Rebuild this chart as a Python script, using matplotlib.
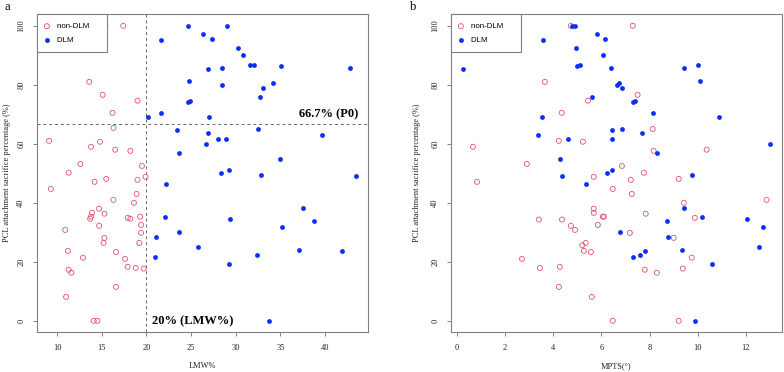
import matplotlib
matplotlib.use("Agg")
import matplotlib.pyplot as plt

# ---- data ----
# panel a: LMW% vs PCL attachment sacrifice percentage
lmw_non = [15.4, 17.4, 13.6, 15.1, 19.0, 16.2, 16.3, 9.1, 13.8, 14.8, 16.5, 18.2,
           12.6, 11.3, 19.5, 19.9, 15.5, 14.2, 19.0, 9.3, 18.9, 16.3, 18.6, 14.7,
           13.9, 15.3, 13.8, 13.7, 17.9, 18.2, 19.3, 14.7, 19.4, 10.9, 19.4, 15.3,
           15.2, 19.2, 11.2, 12.9, 16.6, 17.6, 11.3, 11.6, 17.9, 18.8, 19.7, 16.6,
           11.0, 14.1, 14.5]
pcl_a_non = [100, 100, 81, 76.6, 74.6, 70.5, 65.4, 61, 59, 60.7, 58, 57.6,
             53.2, 50.2, 52.5, 48.8, 48.1, 47.1, 47.8, 44.7, 43, 41, 40, 38,
             36.6, 36.3, 35.3, 34.6, 34.9, 34.6, 35.3, 32.2, 32.5, 30.8, 29.8, 28.1,
             26.4, 26.4, 23.7, 21.4, 23.3, 21, 17.3, 16.3, 18.3, 17.9, 17.7, 11.5,
             8.1, 0, 0]
lmw_dlm = [24.7, 29.0, 21.6, 26.3, 27.3, 30.2, 30.8, 31.6, 32.0, 35.1, 42.8, 26.9,
           28.5, 24.8, 28.5, 34.2, 33.1, 32.7, 24.7, 24.9, 21.6, 20.2, 27.0, 23.4,
           32.5, 26.9, 39.6, 28.0, 28.9, 26.7, 23.7, 35.0, 29.2, 28.3, 32.8, 43.5,
           22.2, 37.5, 22.1, 29.3, 38.8, 35.2, 23.7, 21.1, 25.8, 37.1, 41.9, 32.4,
           21.0, 29.2, 33.7]
pcl_a_dlm = [100, 100, 95.3, 97.3, 95.6, 92.5, 90.2, 86.8, 86.8, 86.4, 85.8, 85.4,
             85.8, 81.4, 80, 80.7, 79, 76, 74.3, 74.6, 70.5, 69, 69.1, 64.7,
             65, 63.8, 63, 61.7, 61.7, 60, 57, 55, 51.2, 50.2, 49.5, 49.2,
             46.4, 38.3, 35.2, 34.6, 33.9, 31.9, 30.2, 28.5, 25, 24, 23.7, 22.4,
             21.7, 19.3, 0]

# panel b: MPTS vs PCL attachment sacrifice percentage
mpts_non = [4.73, 3.65, 5.44, 4.35, 7.5, 4.23, 5.23, 0.66, 2.9, 5.68, 0.83, 5.68,
            5.68, 3.4, 4.36, 4.73, 4.9, 5.85, 5.35, 5.2, 7.3, 8.13, 8.17, 10.37,
            6.85, 7.76, 7.22, 9.21, 6.47, 7.26, 9.42, 12.86, 6.06, 6.1, 7.84, 9.88,
            7.18, 9.0, 2.7, 3.44, 4.27, 4.23, 5.6, 5.27, 5.56, 9.75, 7.8, 8.3,
            9.38, 6.47, 9.21]
pcl_b_non = [100, 81, 74.6, 70.5, 76.6, 61, 60.7, 59, 53.2, 48.8, 47.1, 38,
             36.6, 34.3, 34.3, 32.2, 30.8, 32.5, 26.4, 25.6, 100, 65, 57.6, 58,
             52.5, 50.2, 47.8, 48.1, 44.7, 43, 40, 41, 35.3, 35.3, 36.3, 34.9,
             29.8, 28.1, 21, 17.9, 18.3, 11.5, 8.1, 23.7, 23.3, 21.4, 17.3, 16.3,
             17.7, 0, 0]
mpts_dlm = [4.77, 4.9, 5.8, 3.57, 4.94, 0.25, 5.0, 5.1, 5.6, 3.53, 6.14, 6.06,
            6.39, 9.42, 10.0, 10.1, 6.64, 6.72, 6.85, 7.3, 7.4, 8.13, 10.9, 3.36,
            4.6, 4.27, 4.36, 5.35, 6.43, 6.85, 7.68, 6.43, 13.0, 8.3, 6.43, 6.22,
            9.75, 9.42, 10.17, 12.03, 8.71, 12.7, 6.76, 8.76, 12.53, 7.3, 7.6, 7.8,
            9.34, 10.58, 9.88]
pcl_b_dlm = [100, 100, 97.3, 95.3, 92.5, 85.4, 86.5, 86.8, 76, 69, 95.6, 90.2,
             85.8, 85.8, 86.8, 81.4, 80, 80.7, 79, 74.3, 74.6, 70.5, 69, 63,
             61.7, 55, 49.2, 46.4, 64.7, 65, 63.8, 61.7, 60, 57, 51.2, 50.2,
             49.5, 38.3, 35.2, 34.6, 33.9, 31.9, 30.2, 28.5, 25, 21.7, 22.4, 23.7,
             24, 19.3, 0]

LMW_CUT = 20
P0_CUT = 66.7

RED = "#DF536B"
BLUE = "#0A2EF5"
GREY = "#808080"
SERIF = "Liberation Serif"
SANS = "Liberation Sans"

plt.rcParams["font.family"] = SERIF

W, H = 784, 372
fig = plt.figure(figsize=(W / 100, H / 100), dpi=100)


def px_axes(left, top, right, bottom):
    return fig.add_axes([left / W, 1 - bottom / H, (right - left) / W, (bottom - top) / H])


def style_axes(ax, xlabel, ylab_x, xticks):
    for sp in ax.spines.values():
        sp.set_color(GREY)
        sp.set_linewidth(0.8)
    ax.set_xticks(xticks)
    ax.set_yticks(range(0, 101, 20))
    ax.tick_params(length=3, width=0.7, color=GREY, labelsize=6,
                   labelcolor="#222222", pad=5.5)
    for lbl in ax.get_yticklabels():
        lbl.set_rotation(90)
        lbl.set_va("center")
    ax.set_xlabel(xlabel, fontsize=6, color="#222222")
    ax.xaxis.set_label_coords(0.5, -0.095)
    ax.set_ylabel("PCL attachment sacrifice percentage (%)", fontsize=6, color="#222222")
    ax.yaxis.set_label_coords(ylab_x, 0.5)
    leg = ax.legend(loc="upper left", bbox_to_anchor=(0, 1), borderaxespad=0,
                    fancybox=False, edgecolor=GREY, framealpha=1,
                    prop={"family": SANS, "size": 5.7}, handlelength=0.3,
                    handletextpad=1.1, borderpad=1.1, labelspacing=0.75,
                    scatterpoints=1)
    leg.get_frame().set_linewidth(0.8)


def scatter_groups(ax, x_non, y_non, x_dlm, y_dlm):
    ax.scatter(x_non, y_non, s=13, facecolors="none", edgecolors=RED,
               linewidths=0.6, label="non-DLM    ", zorder=3)
    ax.scatter(x_dlm, y_dlm, s=12, color=BLUE, linewidths=0,
               label="DLM           ", zorder=3)


# --- Panel a: LMW% ---
ax = px_axes(37, 14, 368, 332)
scatter_groups(ax, lmw_non, pcl_a_non, lmw_dlm, pcl_a_dlm)
ax.axvline(LMW_CUT, color="#666666", lw=0.7, ls=(0, (3, 3)))
ax.axhline(P0_CUT, color="#666666", lw=0.7, ls=(0, (3, 3)))
ax.text(43.7, P0_CUT + 1.2, "66.7% (P0)", ha="right", va="bottom",
        fontsize=9, fontweight="bold")
ax.text(20.6, 0, "20% (LMW%)", ha="left", va="center",
        fontsize=9, fontweight="bold")
ax.set_xlim(7.75, 44.8)
ax.set_ylim(-3.8, 104)
style_axes(ax, "LMW%", -0.08, range(10, 41, 5))

# --- Panel b: MPTS ---
ax = px_axes(451, 14, 782, 332)
scatter_groups(ax, mpts_non, pcl_b_non, mpts_dlm, pcl_b_dlm)
ax.set_xlim(-0.25, 13.5)
ax.set_ylim(-3.8, 104)
style_axes(ax, "MPTS(°)", -0.09, range(0, 13, 2))

fig.text(7 / W, 1 - 7 / H, "a", fontsize=9, ha="center", va="center")
fig.text(413 / W, 1 - 7 / H, "b", fontsize=9, ha="center", va="center")

fig.savefig("out.png", dpi=100)
